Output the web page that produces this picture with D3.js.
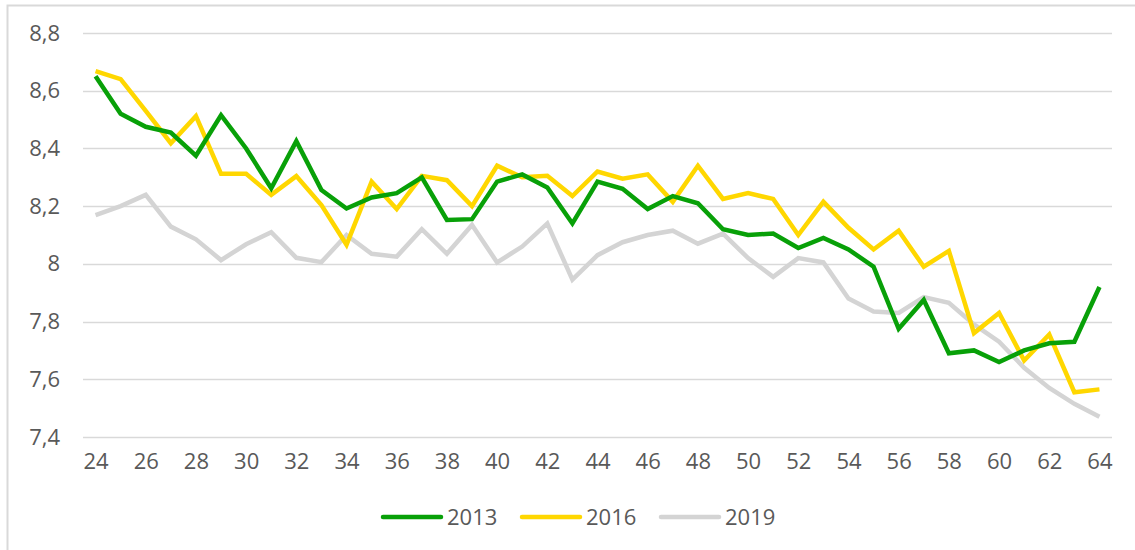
<!DOCTYPE html>
<html>
<head>
<meta charset="utf-8">
<script src="https://cdn.jsdelivr.net/npm/d3@7"></script>
<style>
  html, body { margin: 0; padding: 0; background: #fff; }
  svg { display: block; }
  text { font-family: "Open Sans", sans-serif; fill: #595959; }
</style>
</head>
<body>
<div id="viz"></div>
<script>
'use strict';

// ages on the category axis
const ages = d3.range(24, 65);

const years = ['2013', '2016', '2019'];

const values2013 = [
  8.65, 8.52, 8.475, 8.455, 8.375, 8.515, 8.40, 8.262, 8.425, 8.256,
  8.192, 8.23, 8.245, 8.30, 8.152, 8.155, 8.285, 8.31, 8.265, 8.14,
  8.285, 8.26, 8.19, 8.235, 8.21, 8.12, 8.10, 8.105, 8.055, 8.09,
  8.05, 7.99, 7.775, 7.875, 7.69, 7.70, 7.66, 7.70, 7.725, 7.73,
  7.92
];

const values2016 = [
  8.668, 8.64, 8.53, 8.418, 8.512, 8.312, 8.312, 8.239, 8.304, 8.204,
  8.066, 8.285, 8.19, 8.305, 8.29, 8.20, 8.34, 8.30, 8.305, 8.235,
  8.32, 8.295, 8.31, 8.215, 8.34, 8.225, 8.245, 8.225, 8.10, 8.215,
  8.125, 8.05, 8.115, 7.99, 8.045, 7.76, 7.83, 7.665, 7.755, 7.555,
  7.565
];

const values2019 = [
  8.169, 8.20, 8.239, 8.129, 8.085, 8.013, 8.068, 8.11, 8.021, 8.006,
  8.10, 8.035, 8.025, 8.12, 8.035, 8.135, 8.005, 8.06, 8.14, 7.945,
  8.03, 8.075, 8.10, 8.115, 8.07, 8.105, 8.02, 7.955, 8.02, 8.005,
  7.88, 7.835, 7.83, 7.885, 7.865, 7.79, 7.73, 7.64, 7.57, 7.515,
  7.47
];

const yTicks = [7.4, 7.6, 7.8, 8.0, 8.2, 8.4, 8.6, 8.8];
const xTicks = d3.range(24, 65, 2);

const colors = ['#08a008', '#ffd700', '#d4d4d4'];

const series = [values2013, values2016, values2019];

const W = 1135;
const H = 550;
const margin = {top: 33, right: 23, bottom: 113, left: 83};
const width = W - margin.left - margin.right;
const height = H - margin.top - margin.bottom;

const svg = d3.select('#viz')
  .append('svg')
    .attr('width', W)
    .attr('height', H);

// chart area border (only top and left are inside the picture)
svg.append('rect')
  .attr('x', 7.5)
  .attr('y', 5.5)
  .attr('width', W + 20)
  .attr('height', H + 20)
  .attr('fill', 'none')
  .attr('stroke', '#d9d9d9')
  .attr('stroke-width', 2);

const g = svg.append('g')
  .attr('transform', `translate(${margin.left},${margin.top})`);

const x = d3.scalePoint()
  .domain(ages)
  .range([0, width])
  .padding(0.5);

const y = d3.scaleLinear()
  .domain([7.4, 8.8])
  .range([height, 0]);

const fmt = v => d3.format('.1f')(v).replace('.0', '').replace('.', ',');

// gridlines
g.append('g')
  .selectAll('line')
  .data(yTicks)
  .join('line')
    .attr('x1', 0)
    .attr('x2', width)
    .attr('y1', d => Math.round(y(d)) + 0.5)
    .attr('y2', d => Math.round(y(d)) + 0.5)
    .attr('stroke', '#d9d9d9')
    .attr('stroke-width', 1.5);

// y axis labels
const yAxis = g.append('g')
  .call(d3.axisLeft(y).tickValues(yTicks).tickFormat(fmt).tickSize(0).tickPadding(23));
yAxis.select('.domain').remove();
yAxis.selectAll('text')
  .style('font-size', '22px')
  .attr('fill', '#595959');

// x axis labels
const xAxis = g.append('g')
  .attr('transform', `translate(0,${height})`)
  .call(d3.axisBottom(x).tickValues(xTicks).tickSize(0).tickPadding(16));
xAxis.select('.domain').remove();
xAxis.selectAll('text')
  .style('font-size', '22px')
  .attr('fill', '#595959');

// lines, drawn 2019 first so 2013 ends up on top
const line = d3.line()
  .x((d, i) => x(ages[i]))
  .y(d => y(d));

[2, 1, 0].forEach(k => {
  g.append('path')
    .datum(series[k])
    .attr('fill', 'none')
    .attr('stroke', colors[k])
    .attr('stroke-width', 4.5)
    .attr('stroke-linejoin', 'miter')
    .attr('d', line);
});

// legend
const legendX = [383, 522, 661];
const legend = svg.append('g');
years.forEach((yr, k) => {
  legend.append('line')
    .attr('x1', legendX[k])
    .attr('x2', legendX[k] + 58)
    .attr('y1', 517)
    .attr('y2', 517)
    .attr('stroke', colors[k])
    .attr('stroke-width', 4.5)
    .attr('stroke-linecap', 'round');
  legend.append('text')
    .attr('x', legendX[k] + 64)
    .attr('y', 517)
    .attr('dy', '0.35em')
    .style('font-size', '22px')
    .text(yr);
});
</script>
</body>
</html>
